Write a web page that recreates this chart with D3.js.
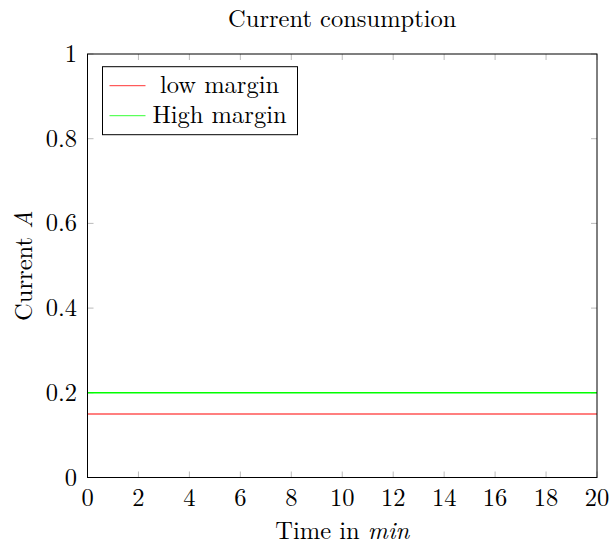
<!DOCTYPE html>
<html>
<head>
<meta charset="utf-8">
<script src="https://cdn.jsdelivr.net/npm/d3@7"></script>
<style>
  body { margin: 0; background: #fff; }
  text { font-family: "Latin Modern Roman", "Liberation Serif", serif; fill: #000; }
</style>
</head>
<body>
<div id="chart"></div>
<script>
var xTicks = [0, 2, 4, 6, 8, 10, 12, 14, 16, 18, 20]
var yTicks = [0, 0.2, 0.4, 0.6, 0.8, 1]
var seriesNames = ["low margin", "High margin"]
var seriesColors = ["#ff0000", "#00ff00"]
var lowMargin = [[0, 0.15], [20, 0.15]]
var highMargin = [[0, 0.2], [20, 0.2]]

var width = 610, height = 548
var margin = {top: 54, right: 13, bottom: 70.5, left: 87.5}
var w = width - margin.left - margin.right,
    h = height - margin.top - margin.bottom
var fs = "24.5px"

var svg = d3.select("#chart")
  .append("svg")
    .attr("width", width)
    .attr("height", height)

var g = svg.append("g")
  .attr("transform", "translate(" + margin.left + "," + margin.top + ")")

var x = d3.scaleLinear().domain([0, 20]).range([0, w])
var y = d3.scaleLinear().domain([0, 1]).range([h, 0])

// tick marks on all four sides, pointing inward
var tickLen = 6
g.selectAll("xTickB").data(xTicks).enter().append("line")
  .attr("x1", d => x(d)).attr("x2", d => x(d))
  .attr("y1", h).attr("y2", h - tickLen)
  .attr("stroke", "#aaa").attr("stroke-width", 0.8)
g.selectAll("xTickT").data(xTicks).enter().append("line")
  .attr("x1", d => x(d)).attr("x2", d => x(d))
  .attr("y1", 0).attr("y2", tickLen)
  .attr("stroke", "#aaa").attr("stroke-width", 0.8)
g.selectAll("yTickL").data(yTicks).enter().append("line")
  .attr("x1", 0).attr("x2", tickLen)
  .attr("y1", d => y(d)).attr("y2", d => y(d))
  .attr("stroke", "#aaa").attr("stroke-width", 0.8)
g.selectAll("yTickR").data(yTicks).enter().append("line")
  .attr("x1", w).attr("x2", w - tickLen)
  .attr("y1", d => y(d)).attr("y2", d => y(d))
  .attr("stroke", "#aaa").attr("stroke-width", 0.8)

// tick labels
g.selectAll("xLab").data(xTicks).enter().append("text")
  .attr("x", d => x(d)).attr("y", h + 28.5)
  .attr("text-anchor", "middle")
  .style("font-size", fs)
  .text(d => d)
g.selectAll("yLab").data(yTicks).enter().append("text")
  .attr("x", -10.5).attr("y", d => y(d) + 8)
  .attr("text-anchor", "end")
  .style("font-size", fs)
  .text(d => d)

// series lines
var line = d3.line().x(d => x(d[0])).y(d => y(d[1]))
g.append("path").datum(lowMargin)
  .attr("d", line).attr("fill", "none")
  .attr("stroke", seriesColors[0]).attr("stroke-width", 1.1)
g.append("path").datum(highMargin)
  .attr("d", line).attr("fill", "none")
  .attr("stroke", seriesColors[1]).attr("stroke-width", 1.4)

// frame
g.append("rect")
  .attr("width", w).attr("height", h)
  .attr("fill", "none").attr("stroke", "#000").attr("stroke-width", 1)

// title and axis labels
svg.append("text")
  .attr("x", margin.left + w / 2).attr("y", 27)
  .attr("text-anchor", "middle")
  .style("font-size", fs)
  .text("Current consumption")

var xl = svg.append("text")
  .attr("x", margin.left + w / 2).attr("y", 539)
  .attr("text-anchor", "middle")
  .style("font-size", fs)
xl.append("tspan").text("Time in ")
xl.append("tspan").style("font-style", "italic").text("min")

var yl = svg.append("text")
  .attr("transform", "translate(32," + (margin.top + h / 2) + ") rotate(-90)")
  .attr("text-anchor", "middle")
  .style("font-size", fs)
yl.append("tspan").text("Current ")
yl.append("tspan").style("font-style", "italic").text("A")

// legend
var lg = g.append("g").attr("transform", "translate(15,12.7)")
lg.append("rect")
  .attr("width", 195).attr("height", 68)
  .attr("fill", "#fff").attr("stroke", "#000").attr("stroke-width", 1)
seriesNames.forEach(function(name, i) {
  var cy = 19 + i * 30
  lg.append("line")
    .attr("x1", 7).attr("x2", 43)
    .attr("y1", cy).attr("y2", cy)
    .attr("stroke", seriesColors[i]).attr("stroke-width", 0.8)
  lg.append("text")
    .attr("x", 117).attr("y", cy + 7.5)
    .attr("text-anchor", "middle")
    .style("font-size", fs)
    .text(name)
})
</script>
</body>
</html>
